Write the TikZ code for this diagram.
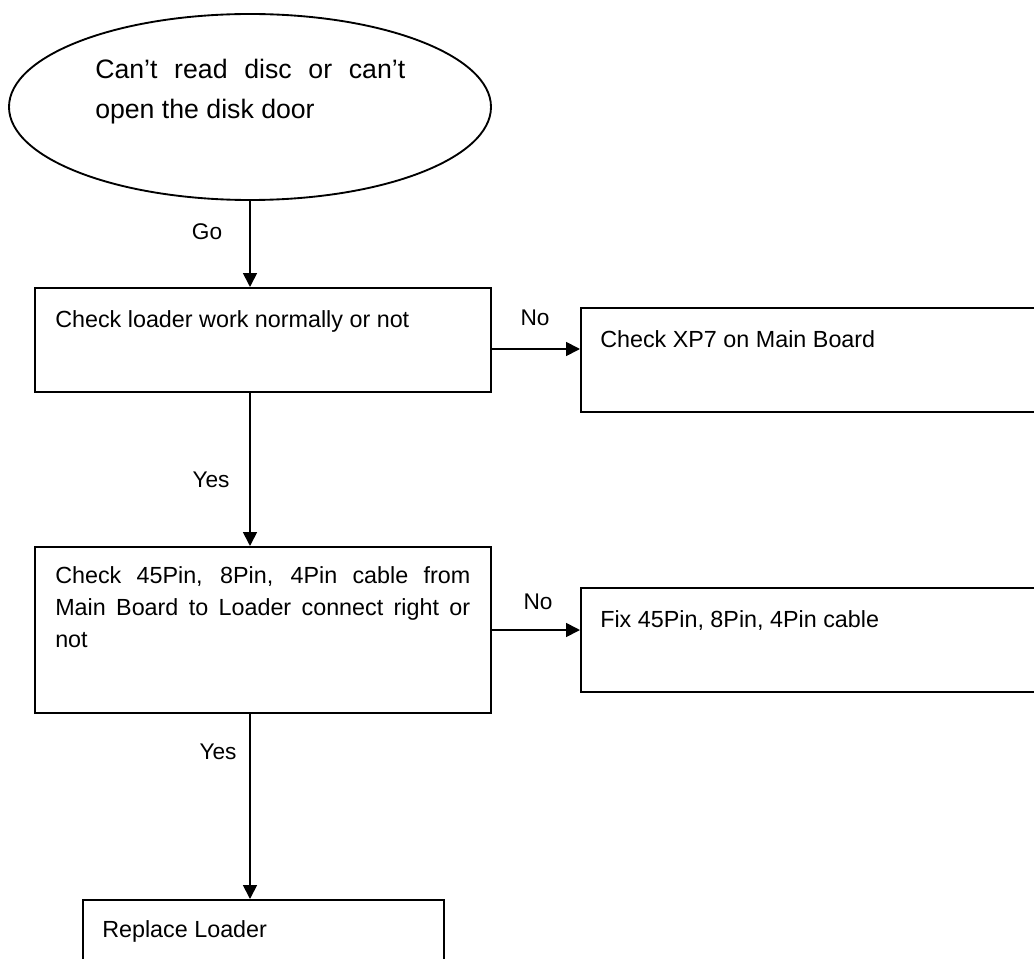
\documentclass[tikz,border=0pt]{standalone}
\usepackage{fontspec}
\setmainfont{Liberation Sans}
\usetikzlibrary{arrows.meta,shapes.geometric}
\begin{document}
\begin{tikzpicture}[x=0.75pt,y=-0.75pt,
  box/.style={draw,line width=1.4pt,rectangle,inner sep=0pt,anchor=north west},
  arr/.style={line width=1.3pt,-{Triangle[length=10.5pt,width=10.5pt]}},
  txt/.style={inner sep=0pt,anchor=base west,font=\fontsize{17.5}{24}\selectfont},
  etxt/.style={inner sep=0pt,anchor=base west,font=\fontsize{20}{30}\selectfont},
  lbl/.style={inner sep=0pt,font=\fontsize{17}{20}\selectfont}]
\useasboundingbox (0,0) rectangle (1034,959);
\clip (0,0) rectangle (1034,959);
% shapes
\node[draw,ellipse,line width=1.4pt,minimum width=361.5pt,minimum height=139.5pt,inner sep=0pt] (ell) at (250,107) {};
\node[box,minimum width=342pt,minimum height=78pt] (b1) at (34,287) {};
\node[box,minimum width=360pt,minimum height=78pt] (b2) at (580,307) {};
\node[box,minimum width=342pt,minimum height=124.5pt] (b3) at (34,546) {};
\node[box,minimum width=360pt,minimum height=78pt] (b4) at (580,587) {};
\node[box,minimum width=270.75pt,minimum height=75pt] (b5) at (82,899) {};
% texts
\node[etxt] (e1) at (95,79) {\makebox[232.5pt][s]{Can't read disc or can't}};
\node[etxt] (e2) at (95,119) {open the disk door};
\node[txt] (t1) at (55,327) {Check loader work normally or not};
\node[txt] (t2) at (600,347) {Check XP7 on Main Board};
\node[txt] (t3a) at (55,583) {\makebox[311.25pt][s]{Check 45Pin, 8Pin, 4Pin cable from}};
\node[txt] (t3b) at (55,615) {\makebox[311.25pt][s]{Main Board to Loader connect right or}};
\node[txt] (t3c) at (55,647) {not};
\node[txt] (t4) at (600,627) {Fix 45Pin, 8Pin, 4Pin cable};
\node[txt] (t5) at (102,937) {Replace Loader};
% connectors
\coordinate (c1) at (0,349);
\coordinate (c2) at (0,630);
\draw[arr] (ell.south) -- (ell.south |- b1.north);
\draw[arr] (b1.east |- c1) -- (b2.west |- c1);
\draw[arr] (b1.south -| ell.south) -- (b3.north -| ell.south);
\draw[arr] (b3.east |- c2) -- (b4.west |- c2);
\draw[arr] (b3.south -| ell.south) -- (b5.north -| ell.south);
% labels
\node[lbl] (go) at (207,232) {Go};
\node[lbl] (no1) at (535,318) {No};
\node[lbl] (yes1) at (211,480) {Yes};
\node[lbl] (no2) at (538,602) {No};
\node[lbl] (yes2) at (218,752) {Yes};
\end{tikzpicture}
\end{document}
